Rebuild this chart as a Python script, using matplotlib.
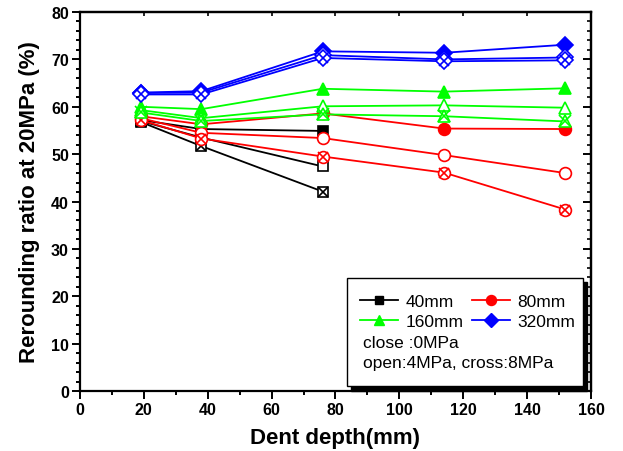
import matplotlib
matplotlib.use("Agg")
import matplotlib.pyplot as plt
from matplotlib.patches import Rectangle
from matplotlib.lines import Line2D
from matplotlib.ticker import MultipleLocator

plt.rcParams["font.family"] = ["Liberation Sans", "DejaVu Sans"]

# dent depth (mm)
depth = [19, 38, 76, 114, 152]
depth_40 = [19, 38, 76]

# rerounding ratio at 20MPa (%) -- close: 0MPa, open: 4MPa, cross: 8MPa
d40_close = [57.2, 55.3, 54.9]
d40_open = [57.0, 53.5, 47.4]
d40_cross = [56.8, 51.7, 42.1]

d80_close = [58.0, 56.3, 58.6, 55.4, 55.3]
d80_open = [57.6, 54.5, 53.4, 49.8, 46.0]
d80_cross = [57.2, 53.3, 49.5, 46.1, 38.3]

d160_close = [60.0, 59.5, 63.8, 63.2, 63.9]
d160_open = [59.3, 57.6, 60.1, 60.3, 59.8]
d160_cross = [58.8, 57.0, 58.4, 58.0, 56.9]

d320_close = [63.0, 63.3, 71.7, 71.4, 73.1]
d320_open = [62.9, 63.0, 70.9, 70.0, 70.4]
d320_cross = [62.6, 62.6, 70.3, 69.6, 69.8]

series = [
    ("40mm", "black", "s", depth_40, d40_close, d40_open, d40_cross),
    ("80mm", "#ff0000", "o", depth, d80_close, d80_open, d80_cross),
    ("160mm", "#00ff00", "^", depth, d160_close, d160_open, d160_cross),
    ("320mm", "#0000ff", "D", depth, d320_close, d320_open, d320_cross),
]
msize = {"s": 7.5, "o": 8.5, "^": 9.0, "D": 8.0}

fig = plt.figure(figsize=(6.23, 4.52), dpi=100)
ax = fig.add_axes([0.1284, 0.1327, 0.8202, 0.8385])

handles = {}
for label, color, mk, xs, y_close, y_open, y_cross in series:
    ms = msize[mk]
    ax.plot(xs, y_close, color=color, lw=1.3, marker=mk, ms=ms,
            mfc=color, mec=color, mew=1.2)
    ax.plot(xs, y_open, color=color, lw=1.3, marker=mk, ms=ms,
            mfc="white", mec=color, mew=1.2)
    ax.plot(xs, y_cross, color=color, lw=1.3, marker=mk, ms=ms,
            mfc="white", mec=color, mew=1.2)
    ax.plot(xs, y_cross, ls="none", marker="x", ms=ms * 0.9,
            mec=color, mew=1.2)
    handles[label] = Line2D([], [], color=color, lw=1.3, marker=mk,
                            ms=ms * 0.85, mfc=color, mec=color, label=label)

ax.set_xlim(0, 160)
ax.set_ylim(0, 80)
ax.xaxis.set_major_locator(MultipleLocator(20))
ax.xaxis.set_minor_locator(MultipleLocator(10))
ax.yaxis.set_major_locator(MultipleLocator(10))
ax.yaxis.set_minor_locator(MultipleLocator(2))

for sp in ax.spines.values():
    sp.set_linewidth(1.6)

ax.tick_params(which="both", bottom=True, left=True, top=False, right=False,
               direction="out", width=1.4)
ax.tick_params(which="major", length=6, labelsize=11.5, pad=2)
ax.tick_params(which="minor", length=3)
secx = ax.secondary_xaxis("top")
secx.xaxis.set_major_locator(MultipleLocator(20))
secx.tick_params(direction="in", length=3, width=1.2, labeltop=False)
secy = ax.secondary_yaxis("right")
secy.yaxis.set_major_locator(MultipleLocator(10))
secy.yaxis.set_minor_locator(MultipleLocator(2))
secy.tick_params(which="major", direction="in", length=6, width=1.4, labelright=False)
secy.tick_params(which="minor", direction="in", length=3, width=1.2)
secx.spines["top"].set_linewidth(1.6)
secy.spines["right"].set_linewidth(1.6)
for lab in ax.get_xticklabels() + ax.get_yticklabels():
    lab.set_fontweight("bold")

ax.set_xlabel("Dent depth(mm)", fontsize=16, fontweight="bold", labelpad=7)
ax.set_ylabel("Rerounding ratio at 20MPa (%)", fontsize=16, fontweight="bold", labelpad=8)

# legend box with black drop shadow
bx, by, bw, bh = 0.522, 0.012, 0.463, 0.286
ax.add_patch(Rectangle((bx + 0.008, by - 0.011), bw, bh, transform=ax.transAxes,
                       facecolor="black", edgecolor="black", zorder=5, clip_on=False))
ax.add_patch(Rectangle((bx, by), bw, bh, transform=ax.transAxes,
                       facecolor="white", edgecolor="black", lw=1.0, zorder=6, clip_on=False))

order = ["40mm", "160mm", "80mm", "320mm"]
leg = ax.legend(handles=[handles[k] for k in order], ncol=2, loc="upper left",
                bbox_to_anchor=(0.548, 0.256), frameon=False, fontsize=12.5,
                handlelength=2.2, handletextpad=0.4, columnspacing=0.5,
                borderpad=0, borderaxespad=0, labelspacing=0.25)
leg.set_zorder(7)
ax.text(0.554, 0.129, "close :0MPa", transform=ax.transAxes, fontsize=12.5,
        va="center", ha="left", zorder=8)
ax.text(0.554, 0.074, "open:4MPa, cross:8MPa", transform=ax.transAxes, fontsize=12.5,
        va="center", ha="left", zorder=8)

fig.savefig("out.png", dpi=100)
